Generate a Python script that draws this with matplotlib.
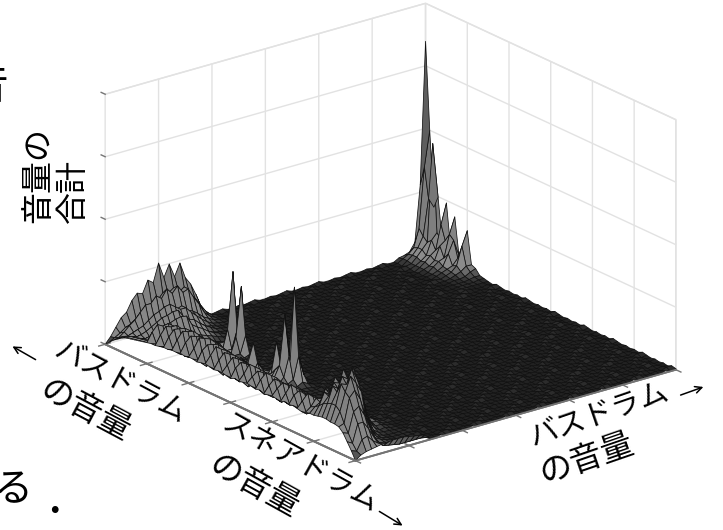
import numpy as np
import matplotlib
matplotlib.use('Agg')
import matplotlib.pyplot as plt
from matplotlib.colors import LinearSegmentedColormap, Normalize
from matplotlib.patches import FancyArrowPatch

plt.rcParams['font.family'] = ['Noto Sans CJK JP', 'DejaVu Sans']
plt.rcParams['grid.color'] = '#e2e2e2'
plt.rcParams['grid.linewidth'] = 1.0
plt.rcParams['axes.edgecolor'] = '#747474'
plt.rcParams['axes.linewidth'] = 1.3
plt.rcParams['xtick.color'] = '#747474'
plt.rcParams['ytick.color'] = '#747474'
plt.rcParams['xtick.major.width'] = 1.0
plt.rcParams['ytick.major.width'] = 1.0

W, H = 723, 530
N = 61

# heights below in pixels, one z tick = 62.5 px
PX_PER_TICK = 62.5

# floor ripple
floor_tile = [
    [0, 1, 0, 2, 1, 0, 1],
    [1, 0, 2, 0, 0, 1, 0],
    [0, 2, 1, 0, 1, 0, 2],
    [1, 0, 0, 1, 0, 2, 0],
    [2, 1, 0, 0, 2, 0, 1],
    [0, 0, 1, 2, 0, 1, 0],
]

# ridge along the front-left edge, rows 0-13, columns 10-60
front_rows = [
    [21,22,22,23,24,24,25,25,26,25, 26,26,25,26,27,26,25,26,26,25, 24,26,25,26,27,26,25,26,24,25, 26,25,24,26,25,26,25,24,25,26, 26,27,28,28,27,27,26,22,15,8, 0],
    [30,20,31,21,33,22,34,21,35,22, 33,23,35,21,34,22,33,20,32,21, 33,21,31,20,32,22,33,20,31,21, 32,20,31,21,33,22,31,20,29,31, 34,38,40,42,42,38,28,20,12,6, 4],
    [36,21,38,23,39,22,41,24,40,23, 42,22,39,23,41,21,39,22,38,21, 37,22,39,21,36,22,38,20,36,21, 36,21,38,20,36,21,37,20,36,34, 46,44,56,52,62,56,52,40,30,16, 6],
    [33,20,36,21,38,22,39,22,38,21, 40,20,38,21,37,20,36,20,35,19, 34,19,35,18,33,19,34,17,32,18, 32,18,33,17,31,18,32,19,34,46, 42,56,52,66,60,70,58,44,30,18, 7],
    [34,18,36,19,37,20,38,20,36,19, 38,18,36,18,34,17,33,17,31,16, 30,16,31,15,29,15,30,14,28,15, 28,14,29,14,27,15,29,17,44,40, 58,54,70,62,74,62,48,34,22,12, 8],
    [30,15,31,16,33,16,33,16,31,15, 33,15,31,14,29,14,28,13,26,12, 25,12,26,11,23,11,24,10,22,11, 22,10,23,10,21,12,24,20,34,52, 48,66,58,72,62,52,30,20,12,8, 9],
    [25,12,27,13,28,13,27,12,27,12, 28,11,26,11,24,10,23,9,21,8, 20,8,19,8,17,7,17,7,16,7, 15,7,15,8,16,10,20,18,44,40, 58,50,64,54,44,26,14,8,5,4, 9],
    [20,9,21,10,22,10,21,9,21,9, 22,8,19,8,18,7,17,6,15,6, 13,6,12,5,11,5,11,4,10,4, 10,5,11,6,11,12,14,22,30,46, 38,50,40,32,20,10,6,5,4,3, 10],
    [15,7,16,8,16,7,16,7,17,6, 18,6,15,5,16,5,13,4,12,4, 10,4,9,3,8,3,7,3,6,3, 6,4,7,5,9,8,14,12,34,28, 36,28,22,14,7,4,3,3,2,2, 10],
    [8,12,8,12,7,12,6,13,7,12, 6,14,8,20,34,16,5,10,5,9, 4,7,4,6,3,5,3,4,2,3, 3,4,4,6,6,10,8,16,18,24, 18,16,10,6,3,2,2,2,1,1, 10],
    [9,6,9,5,8,5,9,5,8,4, 8,4,7,4,12,8,4,8,14,20, 10,5,3,3,2,3,2,2,2,2, 2,2,3,3,5,5,8,8,14,10, 9,6,4,2,2,1,1,1,1,1, 9],
    [5,8,5,7,4,6,4,5,3,5, 3,4,3,4,3,5,12,38,16,69, 30,8,3,2,2,1,2,1,1,2, 1,2,1,2,3,2,4,4,6,5, 6,5,4,3,2,1,1,1,1,1, 8],
    [6,4,6,3,24,6,20,5,3,3, 3,2,2,2,2,2,4,10,8,22, 97,30,6,2,1,1,1,1,1,1, 1,1,1,1,2,2,2,2,3,3, 3,2,2,1,1,1,1,1,1,1, 7],
    [2,4,6,20,80,24,69,22,5,2, 1,1,1,1,1,1,2,3,3,8, 24,10,3,1,1,1,1,1,1,1, 1,1,1,1,1,1,1,1,1,1, 1,1,1,1,1,1,1,1,1,1, 6],
]

# hump at the left corner, rows 0-20, columns 0-9
hump_rows = [
    [0,4,8,11,14,16,17,18,19,20],
    [6,7,9,12,14,16,17,18,19,20],
    [14,10,13,11,16,14,18,16,20,18],
    [22,14,18,13,18,14,20,15,22,16],
    [26,16,22,14,20,15,23,16,25,17],
    [36,20,28,15,24,16,26,17,27,18],
    [42,22,34,16,28,17,29,18,28,18],
    [40,26,34,18,30,18,30,18,30,18],
    [52,28,40,20,33,19,32,19,31,18],
    [48,32,36,22,34,20,32,20,30,18],
    [66,38,44,24,30,17,24,14,20,12],
    [50,36,38,24,26,16,20,12,16,10],
    [62,40,44,26,26,14,18,10,13,8],
    [48,34,36,20,20,12,13,8,9,6],
    [60,38,38,18,15,9,9,5,6,4],
    [44,30,28,14,10,5,6,3,4,2],
    [36,24,20,9,6,4,3,2,2,2],
    [24,16,10,6,3,2,2,1,1,1],
    [10,8,5,3,2,1,1,1,1,1],
    [2,3,2,2,1,1,1,1,1,1],
    [0,1,1,1,1,1,1,1,1,1],
]

# spikes at the back corner, rows 55-60, columns 0-15
back_rows = [
    [3,4,4,3,3,3,3,2,2,2,1,1,1,1,1,1],
    [4,7,8,8,6,7,5,6,4,4,3,2,2,1,1,1],
    [6,12,14,14,10,12,9,10,7,6,5,4,2,1,1,1],
    [14,30,24,20,24,16,22,12,18,8,10,6,3,2,1,1],
    [70,90,60,117,30,40,26,34,30,14,28,10,6,3,2,1],
    [212,125,50,62,20,60,18,50,14,12,42,10,8,3,2,1],
]

tick_pos = [0, 1/6, 2/6, 3/6, 4/6, 5/6, 1]
z_ticks = [0, 1, 2, 3, 4]

left_label = 'バスドラム'
snare_label = 'スネアドラム'
right_label = 'バスドラム'
sub_label = 'の音量'
z_label = '音量の\n合計'


def px(x, y):
    # picture pixels, y down -> figure fraction
    return x / W, 1 - y / H


Z = np.tile(np.array(floor_tile, dtype=float), (N // 6 + 1, N // 7 + 1))[:N, :N]
Z[0:14, 10:61] = np.array(front_rows)
Z[0:21, 0:10] = np.array(hump_rows)
Z[55:61, 0:16] = np.array(back_rows)
Z = Z / PX_PER_TICK

xs = np.arange(N) / (N - 1)
X, Y = np.meshgrid(xs, xs)

fig = plt.figure(figsize=(W / 100, H / 100), dpi=100, facecolor='white')
side = 616
ax = fig.add_axes([74.2 / W, -18.3 / H, side / W, side / H], projection='3d')
ax.set_proj_type('ortho')
ax.view_init(elev=21.3, azim=-38)
ax.set_box_aspect((1, 1, 0.66))
ax.patch.set_alpha(0)

# dark floor, mid grey sides, dark tips on the tall spikes
grey = LinearSegmentedColormap.from_list(
    'floor', [(0, '#222222'), (0.04, '#8c8c8c'), (0.45, '#6e6e6e'), (1, '#262626')])
ax.plot_surface(X, Y, Z, rcount=N, ccount=N, cmap=grey,
                norm=Normalize(0, 3.5), edgecolor='#111111',
                linewidth=0.55, shade=False, antialiased=True)

ax.set_xlim(0, 1)
ax.set_ylim(0, 1)
ax.set_zlim(0, 4)
ax.set_xticks(tick_pos)
ax.set_yticks(tick_pos)
ax.set_zticks(z_ticks)
ax.set_xticklabels([])
ax.set_yticklabels([])
ax.set_zticklabels([])

for axis in (ax.xaxis, ax.yaxis, ax.zaxis):
    axis.set_pane_color((1, 1, 1, 1))
    axis.pane.set_edgecolor('#e2e2e2')
    axis._axinfo['tick']['inward_factor'] = 0.0
    axis._axinfo['tick']['outward_factor'] = 0.2
    axis._axinfo['tick']['color'] = '#747474'
# z axis goes on the left corner
ax.zaxis._axinfo['juggled'] = (1, 0, 2)

# the two floor axes again, on top of the surface
ax.plot([0, 1], [0, 0], [0, 0], color='#747474', lw=1.3, zorder=1000)
ax.plot([1, 1], [0, 1], [0, 0], color='#747474', lw=1.3, zorder=1000)
for t in tick_pos:
    ax.plot([t, t], [0, -0.02], [0, 0], color='#747474', lw=1.0, zorder=1000)
    ax.plot([1, 1.02], [t, t], [0, 0], color='#747474', lw=1.0, zorder=1000)

rot_left = -28
fs = 21
fs_sub = 23.5
fig.text(*px(120, 383), left_label, fontsize=fs, rotation=rot_left,
         ha='center', va='center', rotation_mode='anchor')
fig.text(*px(85, 410), sub_label, fontsize=fs_sub, rotation=rot_left,
         ha='center', va='center', rotation_mode='anchor')
fig.text(*px(300, 463), snare_label, fontsize=fs, rotation=-29,
         ha='center', va='center', rotation_mode='anchor')
fig.text(*px(254, 486), sub_label, fontsize=fs_sub, rotation=-29,
         ha='center', va='center', rotation_mode='anchor')
fig.text(*px(599, 416), right_label, fontsize=fs, rotation=19,
         ha='center', va='center', rotation_mode='anchor')
fig.text(*px(586, 459), sub_label, fontsize=fs_sub, rotation=19,
         ha='center', va='center', rotation_mode='anchor')
fig.text(*px(56, 223), z_label, fontsize=23, rotation=90, linespacing=1.1,
         ha='center', va='bottom', multialignment='left')

# arrows next to the axis names
for a, b in [((38, 361), (10, 345)), ((377, 510), (405, 527)), ((678, 396), (706, 386))]:
    fig.add_artist(FancyArrowPatch(px(*a), px(*b), transform=fig.transFigure,
                                   arrowstyle='->', mutation_scale=12, lw=1.1, color='black'))

# pieces of the surrounding page text, cut by the crop
fig.text(*px(-33, 88), '音', fontsize=30, ha='left', va='center')
fig.text(*px(-6, 490), 'る', fontsize=28, ha='left', va='center')
fig.text(*px(49, 503), '.', fontsize=30, ha='left', va='center', family=['Liberation Serif'], fontweight='bold')

fig.savefig('out.png', dpi=100)
